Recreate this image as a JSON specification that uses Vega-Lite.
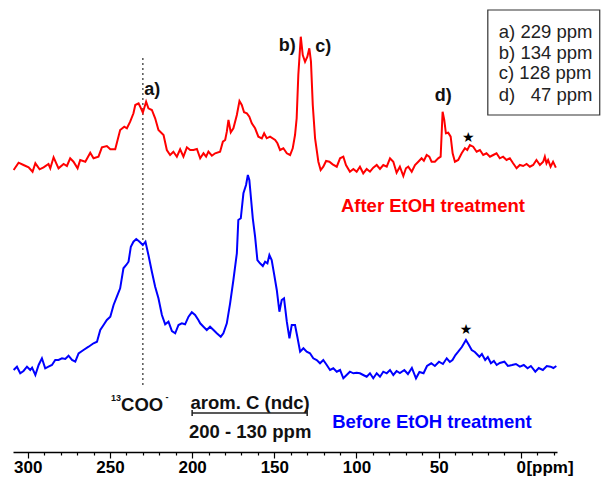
{
  "$schema": "https://vega.github.io/schema/vega-lite/v6.json",
  "width": 544,
  "height": 452,
  "autosize": "none",
  "padding": {"left": 13, "top": 0, "right": 47, "bottom": 27},
  "background": "white",
  "config": {
    "view": {"stroke": null},
    "font": "Liberation Sans",
    "axis": {"grid": false}
  },
  "datasets": {
    "after": [
      {"ppm":308.6,"intensity":282},{"ppm":305.6,"intensity":289.3},{"ppm":302.6,"intensity":287},{"ppm":299.5,"intensity":284.7},{"ppm":297.1,"intensity":280.3},{"ppm":295.4,"intensity":288.7},{"ppm":292.8,"intensity":282.7},{"ppm":290.4,"intensity":284.7},{"ppm":287.4,"intensity":288},{"ppm":286.3,"intensity":283.7},{"ppm":284.3,"intensity":294.7},{"ppm":281.3,"intensity":283.7},{"ppm":278.2,"intensity":288},{"ppm":276.2,"intensity":286},{"ppm":274.2,"intensity":293.7},{"ppm":272.2,"intensity":290.3},{"ppm":269.7,"intensity":283.7},{"ppm":268.1,"intensity":292},{"ppm":265.0,"intensity":290.3},{"ppm":262.0,"intensity":299.3},{"ppm":260.0,"intensity":293.7},{"ppm":257.0,"intensity":295.3},{"ppm":254.9,"intensity":304.7},{"ppm":251.9,"intensity":306},{"ppm":249.8,"intensity":302.7},{"ppm":246.8,"intensity":302.7},{"ppm":243.8,"intensity":322},{"ppm":241.3,"intensity":325.3},{"ppm":239.7,"intensity":323.7},{"ppm":237.7,"intensity":330.3},{"ppm":235.7,"intensity":338.7},{"ppm":234.6,"intensity":347},{"ppm":232.6,"intensity":348.7},{"ppm":231.6,"intensity":345.3},{"ppm":230.0,"intensity":339.3},{"ppm":228.0,"intensity":350.3},{"ppm":226.6,"intensity":343.7},{"ppm":224.5,"intensity":342},{"ppm":222.5,"intensity":333.7},{"ppm":220.5,"intensity":322},{"ppm":217.4,"intensity":317},{"ppm":215.4,"intensity":302},{"ppm":213.4,"intensity":297},{"ppm":211.4,"intensity":300.3},{"ppm":209.3,"intensity":295.3},{"ppm":207.3,"intensity":302.7},{"ppm":205.3,"intensity":295.3},{"ppm":203.2,"intensity":304.7},{"ppm":201.2,"intensity":302},{"ppm":199.2,"intensity":302},{"ppm":197.1,"intensity":303},{"ppm":195.1,"intensity":293.7},{"ppm":193.1,"intensity":298.7},{"ppm":191.5,"intensity":295.3},{"ppm":190.1,"intensity":300.3},{"ppm":188.0,"intensity":296.3},{"ppm":186.0,"intensity":298.7},{"ppm":183.0,"intensity":300.3},{"ppm":181.3,"intensity":310.3},{"ppm":179.9,"intensity":312},{"ppm":178.9,"intensity":320.3},{"ppm":177.9,"intensity":332},{"ppm":176.5,"intensity":319.7},{"ppm":174.9,"intensity":323.7},{"ppm":172.8,"intensity":337},{"ppm":171.2,"intensity":351},{"ppm":169.8,"intensity":347},{"ppm":168.4,"intensity":339.7},{"ppm":166.7,"intensity":338.7},{"ppm":165.2,"intensity":335.3},{"ppm":163.7,"intensity":328.7},{"ppm":161.7,"intensity":323.7},{"ppm":159.7,"intensity":315.3},{"ppm":157.6,"intensity":313.7},{"ppm":156.2,"intensity":318.7},{"ppm":154.6,"intensity":313.7},{"ppm":152.6,"intensity":315.3},{"ppm":149.5,"intensity":312},{"ppm":148.1,"intensity":308.7},{"ppm":146.5,"intensity":302},{"ppm":144.5,"intensity":303.7},{"ppm":142.4,"intensity":298.7},{"ppm":140.4,"intensity":297},{"ppm":138.8,"intensity":303.7},{"ppm":137.4,"intensity":317},{"ppm":136.4,"intensity":333.7},{"ppm":135.4,"intensity":377},{"ppm":133.9,"intensity":415.3},{"ppm":132.7,"intensity":397},{"ppm":131.3,"intensity":390.3},{"ppm":129.9,"intensity":395.3},{"ppm":128.7,"intensity":403.7},{"ppm":127.7,"intensity":390.3},{"ppm":126.6,"intensity":347},{"ppm":125.2,"intensity":313.7},{"ppm":123.2,"intensity":290.3},{"ppm":121.8,"intensity":282},{"ppm":120.2,"intensity":285.3},{"ppm":118.5,"intensity":291},{"ppm":116.5,"intensity":290.3},{"ppm":114.5,"intensity":287.7},{"ppm":112.0,"intensity":285.3},{"ppm":110.0,"intensity":293.7},{"ppm":108.0,"intensity":295.3},{"ppm":106.4,"intensity":287},{"ppm":104.0,"intensity":280.3},{"ppm":101.9,"intensity":283},{"ppm":99.9,"intensity":280.3},{"ppm":97.9,"intensity":285.3},{"ppm":95.9,"intensity":278.7},{"ppm":93.8,"intensity":283},{"ppm":91.8,"intensity":280.3},{"ppm":89.8,"intensity":284.3},{"ppm":87.7,"intensity":287},{"ppm":85.7,"intensity":283},{"ppm":83.7,"intensity":287},{"ppm":81.6,"intensity":285.3},{"ppm":79.6,"intensity":293.7},{"ppm":77.6,"intensity":290.3},{"ppm":75.6,"intensity":279.3},{"ppm":73.6,"intensity":285.3},{"ppm":71.5,"intensity":276},{"ppm":69.9,"intensity":283.7},{"ppm":68.5,"intensity":285.3},{"ppm":66.4,"intensity":280.3},{"ppm":64.4,"intensity":287},{"ppm":62.4,"intensity":290.3},{"ppm":60.4,"intensity":293.7},{"ppm":59.0,"intensity":291.3},{"ppm":57.3,"intensity":297},{"ppm":55.7,"intensity":295.3},{"ppm":54.3,"intensity":290.3},{"ppm":52.3,"intensity":290.3},{"ppm":50.3,"intensity":293.7},{"ppm":48.8,"intensity":295.3},{"ppm":47.6,"intensity":340.3},{"ppm":46.6,"intensity":332},{"ppm":45.6,"intensity":318.7},{"ppm":44.2,"intensity":319.3},{"ppm":42.7,"intensity":315.3},{"ppm":41.5,"intensity":298.7},{"ppm":40.1,"intensity":290.3},{"ppm":38.1,"intensity":292},{"ppm":36.0,"intensity":298.7},{"ppm":34.0,"intensity":303.7},{"ppm":32.6,"intensity":302},{"ppm":31.0,"intensity":307},{"ppm":29.0,"intensity":305.3},{"ppm":26.9,"intensity":300.3},{"ppm":24.9,"intensity":302},{"ppm":22.9,"intensity":297},{"ppm":20.9,"intensity":298.7},{"ppm":18.8,"intensity":295.3},{"ppm":16.8,"intensity":297},{"ppm":14.8,"intensity":298.7},{"ppm":12.8,"intensity":293.7},{"ppm":10.8,"intensity":295.3},{"ppm":8.7,"intensity":292},{"ppm":6.7,"intensity":293.7},{"ppm":4.7,"intensity":288.7},{"ppm":2.6,"intensity":283.7},{"ppm":0.6,"intensity":287},{"ppm":-1.4,"intensity":286},{"ppm":-3.5,"intensity":288},{"ppm":-5.5,"intensity":285.3},{"ppm":-7.5,"intensity":287},{"ppm":-9.5,"intensity":292},{"ppm":-11.6,"intensity":287},{"ppm":-13.6,"intensity":290.3},{"ppm":-14.6,"intensity":295.3},{"ppm":-15.6,"intensity":288.7},{"ppm":-16.6,"intensity":292},{"ppm":-18.1,"intensity":285.3},{"ppm":-19.6,"intensity":290.3},{"ppm":-21.3,"intensity":284.3}
    ],
    "before": [
      {"ppm":308.6,"intensity":82},{"ppm":306.6,"intensity":85.3},{"ppm":304.6,"intensity":78.7},{"ppm":302.6,"intensity":81},{"ppm":300.5,"intensity":85.3},{"ppm":298.5,"intensity":82},{"ppm":297.4,"intensity":84.3},{"ppm":295.4,"intensity":77},{"ppm":293.4,"intensity":87},{"ppm":291.4,"intensity":93.7},{"ppm":289.4,"intensity":83.7},{"ppm":287.4,"intensity":85.3},{"ppm":285.3,"intensity":87},{"ppm":283.3,"intensity":92},{"ppm":281.3,"intensity":92},{"ppm":279.2,"intensity":93.7},{"ppm":277.2,"intensity":93},{"ppm":275.2,"intensity":96.3},{"ppm":273.1,"intensity":92},{"ppm":271.1,"intensity":90.3},{"ppm":269.1,"intensity":98.7},{"ppm":266.1,"intensity":102},{"ppm":263.0,"intensity":105.3},{"ppm":260.0,"intensity":108.7},{"ppm":257.9,"intensity":110.3},{"ppm":255.9,"intensity":122},{"ppm":253.9,"intensity":127},{"ppm":251.9,"intensity":132},{"ppm":249.8,"intensity":135.3},{"ppm":247.8,"intensity":147},{"ppm":245.8,"intensity":155.3},{"ppm":243.8,"intensity":163.7},{"ppm":241.8,"intensity":183.7},{"ppm":240.1,"intensity":187},{"ppm":238.7,"intensity":190.3},{"ppm":237.3,"intensity":205.3},{"ppm":235.7,"intensity":210.3},{"ppm":234.0,"intensity":213},{"ppm":232.0,"intensity":210.3},{"ppm":230.0,"intensity":207},{"ppm":228.4,"intensity":210.3},{"ppm":226.6,"intensity":197},{"ppm":224.5,"intensity":180.3},{"ppm":222.5,"intensity":165.3},{"ppm":220.5,"intensity":153.7},{"ppm":218.4,"intensity":137},{"ppm":216.4,"intensity":127.7},{"ppm":214.4,"intensity":130.3},{"ppm":212.3,"intensity":121},{"ppm":210.3,"intensity":118.7},{"ppm":208.3,"intensity":127},{"ppm":206.3,"intensity":128.7},{"ppm":204.3,"intensity":127.7},{"ppm":202.2,"intensity":135.3},{"ppm":200.2,"intensity":139.7},{"ppm":198.2,"intensity":137},{"ppm":196.2,"intensity":132},{"ppm":195.1,"intensity":128.7},{"ppm":193.1,"intensity":125.3},{"ppm":191.1,"intensity":122},{"ppm":189.1,"intensity":125.3},{"ppm":187.0,"intensity":122},{"ppm":185.0,"intensity":118.7},{"ppm":182.6,"intensity":115.3},{"ppm":181.0,"intensity":118.7},{"ppm":178.9,"intensity":128.7},{"ppm":176.9,"intensity":148.7},{"ppm":174.9,"intensity":172},{"ppm":172.8,"intensity":198.7},{"ppm":171.9,"intensity":232},{"ppm":170.4,"intensity":233.7},{"ppm":168.8,"intensity":258.7},{"ppm":167.2,"intensity":267},{"ppm":166.1,"intensity":277},{"ppm":165.2,"intensity":272},{"ppm":164.1,"intensity":252},{"ppm":163.1,"intensity":233.7},{"ppm":161.7,"intensity":215.3},{"ppm":160.3,"intensity":192},{"ppm":158.7,"intensity":188.7},{"ppm":157.0,"intensity":186},{"ppm":155.6,"intensity":190.3},{"ppm":154.2,"intensity":188.7},{"ppm":153.0,"intensity":197},{"ppm":151.6,"intensity":192},{"ppm":150.2,"intensity":178.7},{"ppm":148.5,"intensity":162},{"ppm":146.9,"intensity":140.3},{"ppm":145.5,"intensity":152},{"ppm":144.1,"intensity":153.7},{"ppm":142.4,"intensity":130.3},{"ppm":140.8,"intensity":113.7},{"ppm":139.4,"intensity":127},{"ppm":137.4,"intensity":127},{"ppm":136.0,"intensity":115.3},{"ppm":134.3,"intensity":100.3},{"ppm":132.3,"intensity":103.7},{"ppm":130.3,"intensity":100.3},{"ppm":128.3,"intensity":98.7},{"ppm":126.3,"intensity":93.7},{"ppm":124.2,"intensity":92},{"ppm":122.2,"intensity":88.7},{"ppm":120.2,"intensity":92},{"ppm":118.1,"intensity":87},{"ppm":116.1,"intensity":82},{"ppm":114.1,"intensity":83.7},{"ppm":112.0,"intensity":80.3},{"ppm":110.0,"intensity":82},{"ppm":108.0,"intensity":73.7},{"ppm":106.0,"intensity":77},{"ppm":104.0,"intensity":80.3},{"ppm":101.9,"intensity":78.7},{"ppm":99.9,"intensity":79.3},{"ppm":97.9,"intensity":78.7},{"ppm":95.9,"intensity":77},{"ppm":93.8,"intensity":75.3},{"ppm":91.8,"intensity":78.7},{"ppm":89.8,"intensity":73.7},{"ppm":87.7,"intensity":78.7},{"ppm":85.7,"intensity":75.3},{"ppm":83.7,"intensity":80.3},{"ppm":81.6,"intensity":78.7},{"ppm":79.6,"intensity":82},{"ppm":77.6,"intensity":77},{"ppm":75.6,"intensity":81},{"ppm":73.6,"intensity":79},{"ppm":70.9,"intensity":82},{"ppm":68.7,"intensity":78},{"ppm":66.3,"intensity":84},{"ppm":63.8,"intensity":73.7},{"ppm":61.7,"intensity":80},{"ppm":59.2,"intensity":78.7},{"ppm":57.1,"intensity":86},{"ppm":54.5,"intensity":88.7},{"ppm":52.3,"intensity":86},{"ppm":49.8,"intensity":90.3},{"ppm":47.4,"intensity":88},{"ppm":45.1,"intensity":93.7},{"ppm":43.2,"intensity":90},{"ppm":41.6,"intensity":92},{"ppm":39.8,"intensity":97},{"ppm":38.1,"intensity":100.3},{"ppm":35.9,"intensity":105},{"ppm":33.4,"intensity":112},{"ppm":31.6,"intensity":107},{"ppm":29.9,"intensity":102},{"ppm":28.0,"intensity":100},{"ppm":25.2,"intensity":95.3},{"ppm":23.7,"intensity":98},{"ppm":21.7,"intensity":92},{"ppm":20.1,"intensity":95},{"ppm":18.2,"intensity":88.7},{"ppm":16.4,"intensity":91},{"ppm":14.7,"intensity":87},{"ppm":12.8,"intensity":89},{"ppm":10.0,"intensity":90.3},{"ppm":7.9,"intensity":86},{"ppm":5.3,"intensity":87},{"ppm":3.0,"intensity":88},{"ppm":0.6,"intensity":85.3},{"ppm":-1.8,"intensity":87},{"ppm":-4.1,"intensity":83.7},{"ppm":-6.1,"intensity":86},{"ppm":-8.8,"intensity":80.3},{"ppm":-10.9,"intensity":84},{"ppm":-13.4,"intensity":82},{"ppm":-15.8,"intensity":86},{"ppm":-18.1,"intensity":85.3},{"ppm":-19.8,"intensity":84},{"ppm":-21.6,"intensity":86}
    ]
  },
  "encoding": {
    "x": {"field": "ppm", "type": "quantitative",
      "scale": {"domain": [309, -22], "nice": false, "zero": false},
      "axis": {
        "title": null,
        "values": [300,290,280,270,260,250,240,230,220,210,200,190,180,170,160,150,140,130,120,110,100,90,80,70,60,50,40,30,20,10,0,-10,-20],
        "labelExpr": "datum.value % 50 === 0 ? datum.label : ''",
        "labelFont": "Liberation Sans", "labelFontWeight": "bold", "labelFontSize": 17, "labelColor": "#000",
        "labelOverlap": false, "labelFlush": false, "labelPadding": 1,
        "domainColor": "#000", "domainWidth": 1.5,
        "tickColor": "#000", "tickWidth": 1.2,
        "tickSize": {"condition": {"test": "datum.value % 50 === 0", "value": 6}, "value": 3}
      }
    }
  },
  "layer": [
    {
      "data": {"values": [{"ppm": 230, "low": 67, "high": 395}]},
      "mark": {"type": "rule", "color": "#555", "strokeWidth": 1.5, "strokeDash": [2, 3]},
      "encoding": {
        "y": {"field": "low", "type": "quantitative", "scale": {"domain": [0, 452], "nice": false}, "axis": null},
        "y2": {"field": "high"}
      }
    },
    {
      "data": {"name": "after"},
      "mark": {"type": "line", "color": "#ff0000", "strokeWidth": 2},
      "encoding": {"y": {"field": "intensity", "type": "quantitative"}}
    },
    {
      "data": {"name": "before"},
      "mark": {"type": "line", "color": "#0000ff", "strokeWidth": 2},
      "encoding": {"y": {"field": "intensity", "type": "quantitative"}}
    },
    {
      "data": {"values": [
        {"ppm": 224.3, "intensity": 362, "label": "a)"},
        {"ppm": 142.2, "intensity": 406, "label": "b)"},
        {"ppm": 120.2, "intensity": 405, "label": "c)"},
        {"ppm": 47.2, "intensity": 356, "label": "d)"}
      ]},
      "mark": {"type": "text", "font": "Liberation Sans", "fontWeight": "bold", "fontSize": 18, "color": "#111", "baseline": "middle", "align": "center"},
      "encoding": {"y": {"field": "intensity", "type": "quantitative"}, "text": {"field": "label"}}
    },
    {
      "data": {"values": [
        {"ppm": 32.0, "intensity": 314, "label": "★"},
        {"ppm": 33.4, "intensity": 122, "label": "★"}
      ]},
      "mark": {"type": "text", "font": "DejaVu Sans", "fontSize": 14, "color": "#000", "baseline": "middle", "align": "center"},
      "encoding": {"y": {"field": "intensity", "type": "quantitative"}, "text": {"field": "label"}}
    },
    {
      "data": {"values": [{"ppm": 53.5, "intensity": 246, "label": "After EtOH treatment"}]},
      "mark": {"type": "text", "font": "Liberation Sans", "fontWeight": "bold", "fontSize": 18.5, "color": "#ff0000", "baseline": "middle", "align": "center"},
      "encoding": {"y": {"field": "intensity", "type": "quantitative"}, "text": {"field": "label"}}
    },
    {
      "data": {"values": [{"ppm": 54.1, "intensity": 30, "label": "Before EtOH treatment"}]},
      "mark": {"type": "text", "font": "Liberation Sans", "fontWeight": "bold", "fontSize": 18.5, "color": "#0000ff", "baseline": "middle", "align": "center"},
      "encoding": {"y": {"field": "intensity", "type": "quantitative"}, "text": {"field": "label"}}
    },
    {
      "data": {"values": [
        {"ppm": 230.4, "intensity": 47, "label": "COO"},
        {"ppm": 164.7, "intensity": 49, "label": "arom. C (ndc)"},
        {"ppm": 164.7, "intensity": 20, "label": "200 - 130 ppm"}
      ]},
      "mark": {"type": "text", "font": "Liberation Sans", "fontWeight": "bold", "fontSize": 18.5, "color": "#111", "baseline": "middle", "align": "center"},
      "encoding": {"y": {"field": "intensity", "type": "quantitative"}, "text": {"field": "label"}}
    },
    {
      "data": {"values": [
        {"ppm": 246.3, "intensity": 54, "label": "13"},
        {"ppm": 215.3, "intensity": 55, "label": "-"}
      ]},
      "mark": {"type": "text", "font": "Liberation Sans", "fontWeight": "bold", "fontSize": 9, "color": "#111", "baseline": "middle", "align": "center"},
      "encoding": {"y": {"field": "intensity", "type": "quantitative"}, "text": {"field": "label"}}
    },
    {
      "data": {"values": [{"ppm": 200, "ppm2": 130, "intensity": 39}]},
      "mark": {"type": "rule", "color": "#222", "strokeWidth": 1.5},
      "encoding": {"x2": {"field": "ppm2"}, "y": {"field": "intensity", "type": "quantitative"}}
    },
    {
      "data": {"values": [{"ppm": 200, "low": 36, "high": 42}, {"ppm": 130, "low": 36, "high": 42}]},
      "mark": {"type": "rule", "color": "#222", "strokeWidth": 1.5},
      "encoding": {"y": {"field": "low", "type": "quantitative"}, "y2": {"field": "high"}}
    },
    {
      "data": {"values": [{"ppm": 20.1, "ppm2": -48, "low": 337, "high": 442}]},
      "mark": {"type": "rect", "fill": null, "fillOpacity": 0, "stroke": "#333", "strokeWidth": 1.2},
      "encoding": {"x2": {"field": "ppm2"}, "y": {"field": "low", "type": "quantitative"}, "y2": {"field": "high"}}
    },
    {
      "data": {"values": [
        {"ppm": 13.4, "intensity": 420.3, "label": "a) 229 ppm"},
        {"ppm": 13.4, "intensity": 399.3, "label": "b) 134 ppm"},
        {"ppm": 13.4, "intensity": 378.7, "label": "c) 128 ppm"},
        {"ppm": 13.4, "intensity": 357.5, "label": "d)\u00a0\u00a0\u00a047 ppm"}
      ]},
      "mark": {"type": "text", "font": "Liberation Sans", "fontSize": 18.5, "color": "#222", "baseline": "middle", "align": "left"},
      "encoding": {"y": {"field": "intensity", "type": "quantitative"}, "text": {"field": "label"}}
    },
    {
      "data": {"values": [{"ppm": -3.4, "intensity": -15.5, "label": "[ppm]"}]},
      "mark": {"type": "text", "font": "Liberation Sans", "fontWeight": "bold", "fontSize": 17, "color": "#000", "baseline": "middle", "align": "left"},
      "encoding": {"y": {"field": "intensity", "type": "quantitative"}, "text": {"field": "label"}}
    }
  ]
}
